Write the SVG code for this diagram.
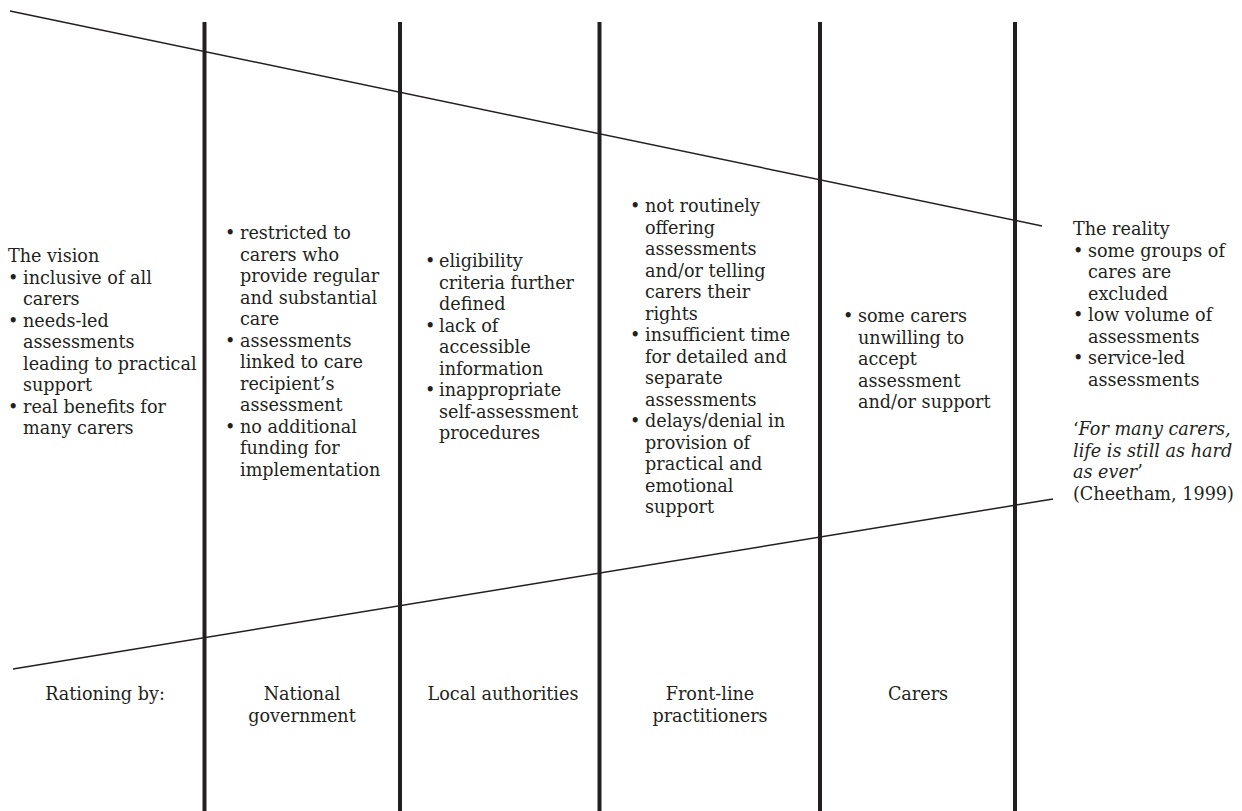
<svg xmlns="http://www.w3.org/2000/svg" width="1242" height="811" viewBox="0 0 1242 811">
<style>
text{font-family:"DejaVu Serif","Liberation Serif",serif;font-size:17.6px;fill:#231f20}
.bar{stroke:#231f20;stroke-width:4}
.ln{stroke:#231f20;stroke-width:1.5;fill:none}
.c{text-anchor:middle}
.i{font-style:italic}
</style>
<rect width="1242" height="811" fill="#fff"/>
<g id="lines">
<line class="bar" x1="204.5" y1="22" x2="204.5" y2="811"/>
<line class="bar" x1="400" y1="22" x2="400" y2="811"/>
<line class="bar" x1="599.5" y1="22" x2="599.5" y2="811"/>
<line class="bar" x1="820" y1="22" x2="820" y2="811"/>
<line class="bar" x1="1015" y1="22" x2="1015" y2="811"/>
<line class="ln" x1="10" y1="11" x2="1042" y2="226"/>
<line class="ln" x1="13" y1="669" x2="1053" y2="499"/>
</g>
<g id="vision">
<text x="8" y="262">The vision</text>
<text x="8" y="283.5">•</text><text x="23" y="283.5">inclusive of all</text>
<text x="23" y="305">carers</text>
<text x="8" y="326.5">•</text><text x="23" y="326.5">needs-led</text>
<text x="23" y="348">assessments</text>
<text x="23" y="369.5">leading to practical</text>
<text x="23" y="391">support</text>
<text x="8" y="412.5">•</text><text x="23" y="412.5">real benefits for</text>
<text x="23" y="434">many carers</text>
</g>
<g id="national">
<text x="225" y="239">•</text><text x="240" y="239">restricted to</text>
<text x="240" y="260.5">carers who</text>
<text x="240" y="282">provide regular</text>
<text x="240" y="303.5">and substantial</text>
<text x="240" y="325">care</text>
<text x="225" y="346.5">•</text><text x="240" y="346.5">assessments</text>
<text x="240" y="368">linked to care</text>
<text x="240" y="389.5">recipient’s</text>
<text x="240" y="411">assessment</text>
<text x="225" y="432.5">•</text><text x="240" y="432.5">no additional</text>
<text x="240" y="454">funding for</text>
<text x="240" y="475.5">implementation</text>
</g>
<g id="local">
<text x="425" y="267">•</text><text x="439" y="267">eligibility</text>
<text x="439" y="288.5">criteria further</text>
<text x="439" y="310">defined</text>
<text x="425" y="331.5">•</text><text x="439" y="331.5">lack of</text>
<text x="439" y="353">accessible</text>
<text x="439" y="374.5">information</text>
<text x="425" y="396">•</text><text x="439" y="396">inappropriate</text>
<text x="439" y="417.5">self-assessment</text>
<text x="439" y="439">procedures</text>
</g>
<g id="frontline">
<text x="630" y="212">•</text><text x="645" y="212">not routinely</text>
<text x="645" y="233.5">offering</text>
<text x="645" y="255">assessments</text>
<text x="645" y="276.5">and/or telling</text>
<text x="645" y="298">carers their</text>
<text x="645" y="319.5">rights</text>
<text x="630" y="341">•</text><text x="645" y="341">insufficient time</text>
<text x="645" y="362.5">for detailed and</text>
<text x="645" y="384">separate</text>
<text x="645" y="405.5">assessments</text>
<text x="630" y="427">•</text><text x="645" y="427">delays/denial in</text>
<text x="645" y="448.5">provision of</text>
<text x="645" y="470">practical and</text>
<text x="645" y="491.5">emotional</text>
<text x="645" y="513">support</text>
</g>
<g id="carers">
<text x="843" y="322">•</text><text x="858" y="322">some carers</text>
<text x="858" y="343.5">unwilling to</text>
<text x="858" y="365">accept</text>
<text x="858" y="386.5">assessment</text>
<text x="858" y="408">and/or support</text>
</g>
<g id="reality">
<text x="1073" y="235">The reality</text>
<text x="1073" y="256.5">•</text><text x="1088" y="256.5">some groups of</text>
<text x="1088" y="278">cares are</text>
<text x="1088" y="299.5">excluded</text>
<text x="1073" y="321">•</text><text x="1088" y="321">low volume of</text>
<text x="1088" y="342.5">assessments</text>
<text x="1073" y="364">•</text><text x="1088" y="364">service-led</text>
<text x="1088" y="385.5">assessments</text>
<text x="1073" y="435">‘<tspan class="i">For many carers,</tspan></text>
<text x="1073" y="456.5" class="i">life is still as hard</text>
<text x="1073" y="478"><tspan class="i">as ever</tspan>’</text>
<text x="1073" y="499.5">(Cheetham, 1999)</text>
</g>
<g id="labels">
<text class="c" x="105" y="700">Rationing by:</text>
<text class="c" x="302" y="700">National</text>
<text class="c" x="302" y="721.5">government</text>
<text class="c" x="503" y="700">Local authorities</text>
<text class="c" x="710" y="700">Front-line</text>
<text class="c" x="710" y="721.5">practitioners</text>
<text class="c" x="918" y="700">Carers</text>
</g>
</svg>
